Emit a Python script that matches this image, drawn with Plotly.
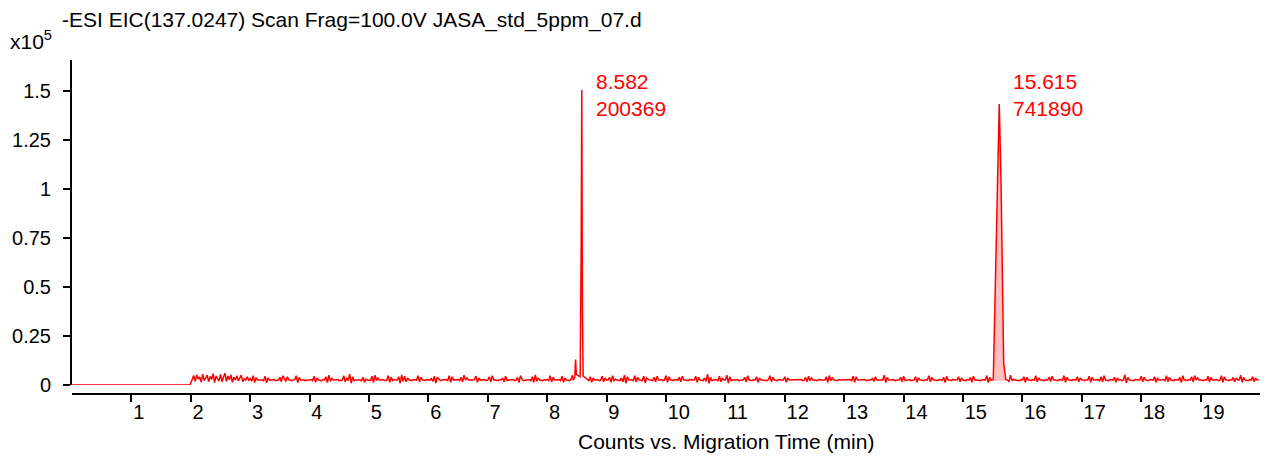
import numpy as np
import plotly.graph_objects as go

# ---------------- data ----------------
TITLE = "-ESI EIC(137.0247) Scan Frag=100.0V JASA_std_5ppm_07.d"
X_LABEL = "Counts vs. Migration Time (min)"
Y_EXP_LABEL = "x10<sup>5</sup>"

# flat region before the detector signal starts
flat_t = [0.0, 1.99]
flat_v = [0, 0]

# baseline noise (counts / 100), one row per minute, sampled every 0.025 min from 2.000 min
noise_start = 2.0
noise_step = 0.025
noise_rows = [
    [10, 35, 48, 18, 52, 30, 41, 15, 55, 22, 38, 50, 16, 44, 28, 58, 12, 46, 33, 20,
     54, 17, 40, 60, 19, 45, 27, 51, 14, 39, 25, 47, 21, 36, 50, 17, 31, 25, 42, 22],  # 2
    [33, 19, 47, 13, 38, 25, 25, 28, 25, 22, 45, 11, 36, 25, 25, 25, 28, 22, 25, 25,
     39, 17, 47, 29, 18, 42, 25, 25, 22, 25, 28, 47, 12, 39, 25, 25, 28, 22, 25, 25],  # 3
    [25, 28, 22, 45, 14, 36, 25, 25, 22, 28, 25, 42, 12, 50, 18, 36, 25, 25, 25, 28,
     22, 25, 25, 47, 16, 36, 22, 55, 9, 42, 22, 25, 25, 28, 25, 22, 39, 14, 30, 25],  # 4
    [25, 22, 45, 12, 50, 22, 36, 25, 25, 28, 25, 22, 25, 48, 14, 39, 22, 28, 25, 25,
     42, 9, 52, 18, 45, 16, 36, 25, 25, 22, 28, 25, 25, 47, 16, 39, 25, 25, 22, 28],  # 5
    [25, 25, 33, 18, 45, 10, 39, 28, 22, 25, 25, 25, 28, 22, 47, 14, 42, 25, 25, 25,
     28, 22, 39, 16, 50, 25, 36, 25, 25, 22, 25, 28, 45, 14, 36, 25, 25, 25, 28, 22],  # 6
    [25, 42, 16, 47, 25, 25, 25, 22, 28, 25, 36, 16, 45, 22, 25, 25, 25, 28, 22, 25,
     39, 12, 48, 30, 22, 25, 25, 25, 28, 22, 42, 14, 52, 18, 36, 25, 25, 22, 28, 25],  # 7
    [28, 22, 47, 16, 39, 25, 25, 25, 28, 22, 45, 14, 36, 25, 25, 22, 28, 50, 16, 42,
     25, 36, 18, 45, 22, 25, 25, 28, 22, 42, 14, 36, 25, 25, 28, 22, 25, 45, 16, 36],  # 8
    [25, 25, 39, 14, 47, 22, 30, 25, 25, 22, 36, 16, 50, 9, 42, 25, 25, 28, 22, 47,
     16, 39, 25, 25, 22, 45, 11, 36, 30, 25, 25, 22, 39, 16, 45, 25, 25, 28, 22, 25],  # 9
    [48, 13, 42, 25, 25, 22, 28, 25, 25, 39, 16, 45, 25, 25, 25, 22, 28, 25, 25, 25,
     45, 14, 39, 25, 25, 22, 36, 18, 55, 8, 39, 22, 25, 25, 28, 22, 45, 16, 36, 25],  # 10
    [25, 50, 10, 42, 22, 25, 25, 25, 28, 22, 25, 25, 25, 39, 16, 47, 25, 25, 22, 28,
     25, 42, 14, 36, 25, 25, 25, 25, 22, 28, 47, 16, 39, 25, 25, 22, 28, 25, 25, 25],  # 11
    [42, 14, 36, 25, 25, 25, 25, 25, 25, 25, 25, 28, 22, 25, 39, 16, 45, 22, 36, 25,
     25, 25, 22, 28, 25, 25, 25, 25, 42, 14, 48, 22, 36, 25, 25, 22, 25, 28, 25, 25],  # 12
    [25, 25, 25, 25, 28, 22, 45, 14, 42, 25, 25, 25, 25, 25, 28, 22, 25, 25, 25, 33,
     18, 42, 25, 25, 22, 25, 25, 50, 12, 39, 25, 25, 25, 28, 22, 25, 25, 25, 39, 16],  # 13
    [45, 22, 25, 25, 28, 22, 25, 25, 42, 14, 36, 25, 25, 25, 22, 28, 25, 47, 16, 39,
     25, 25, 25, 22, 28, 25, 25, 39, 12, 45, 25, 25, 22, 28, 25, 25, 25, 42, 16, 36],  # 14
    [25, 25, 22, 28, 25, 39, 14, 45, 25, 25, 25, 25, 22, 28, 25, 25, 48, 12, 39, 22,
     25, 25, 25, 25, 25, 25, 25, 25, 25, 25, 36, 16, 50, 22, 30, 25, 25, 25, 22, 28],  # 15
    [25, 42, 14, 39, 25, 25, 22, 28, 25, 47, 16, 36, 25, 25, 25, 22, 28, 25, 39, 18,
     45, 25, 25, 25, 22, 28, 25, 25, 48, 14, 39, 25, 25, 22, 28, 25, 25, 42, 16, 36],  # 16
    [25, 25, 22, 28, 25, 45, 14, 39, 25, 25, 25, 28, 22, 42, 16, 47, 25, 25, 22, 28,
     25, 25, 39, 14, 36, 25, 28, 22, 25, 52, 11, 39, 25, 25, 25, 22, 28, 25, 25, 25],  # 17
    [45, 16, 39, 25, 25, 22, 28, 25, 25, 42, 14, 36, 25, 25, 25, 28, 22, 47, 16, 39,
     25, 25, 22, 28, 25, 25, 39, 12, 47, 25, 25, 22, 28, 25, 42, 16, 48, 25, 36, 25],  # 18
    [25, 25, 22, 28, 25, 45, 16, 39, 25, 25, 25, 28, 22, 25, 47, 14, 42, 25, 25, 22,
     28, 25, 39, 16, 36, 25, 25, 50, 14, 39, 25, 25, 22, 28, 25, 42, 16, 36, 25, 25],  # 19
]

# peak 1 (8.582 min) profile
peak1_t = [8.44, 8.465, 8.478, 8.49, 8.52, 8.555, 8.572, 8.582, 8.593, 8.605, 8.64, 8.68]
peak1_v = [2500, 4000, 13000, 5500, 4800, 4200, 70000, 150500, 40000, 4500, 3800, 3000]

# peak 2 (15.615 min) profile
peak2_t = [15.48, 15.51, 15.545, 15.575, 15.61, 15.64, 15.66, 15.685, 15.72, 15.75]
peak2_v = [2500, 2700, 53000, 100000, 143400, 104000, 53000, 11000, 2800, 2500]
peak2_base = 2200

# peak annotations
peak_rt = [8.582, 15.615]
peak_apex_t = [8.582, 15.61]
peak_area = [200369, 741890]

x_ticks = list(range(1, 20))
y_tickvals = [0, 25000, 50000, 75000, 100000, 125000, 150000]
y_ticktext = ["0", "0.25", "0.5", "0.75", "1", "1.25", "1.5"]

# ---------------- assemble trace ----------------
noise_v = [v * 100 for row in noise_rows for v in row]
noise_t = [noise_start + i * noise_step for i in range(len(noise_v))]

windows = [(min(peak1_t), max(peak1_t)), (min(peak2_t), max(peak2_t))]
keep_t, keep_v = [], []
for t, v in zip(noise_t, noise_v):
    if any(a <= t <= b for a, b in windows):
        continue
    keep_t.append(t)
    keep_v.append(v)

all_t = np.array(flat_t + keep_t + peak1_t + peak2_t)
all_v = np.array(flat_v + keep_v + peak1_v + peak2_v)
order = np.argsort(all_t)
all_t, all_v = all_t[order], all_v[order]

RED = "#ff0000"
FONT = "Liberation Sans, Arial, sans-serif"

fig = go.Figure()

# integrated area of peak 2
fig.add_trace(go.Scatter(
    x=peak2_t + peak2_t[::-1],
    y=peak2_v + [peak2_base] * len(peak2_t),
    fill="toself", fillcolor="rgba(255,0,0,0.25)",
    line=dict(width=0), mode="lines", hoverinfo="skip", showlegend=False,
))

fig.add_trace(go.Scatter(
    x=all_t, y=all_v, mode="lines",
    line=dict(color=RED, width=1.5), showlegend=False,
))

L, R, T, B = 72, 12, 60, 63
W, H = 1272, 457
plot_h = H - T - B

fig.update_layout(
    width=W, height=H,
    margin=dict(l=L, r=R, t=T, b=B, autoexpand=False),
    paper_bgcolor="white", plot_bgcolor="white",
    font=dict(family=FONT, size=20, color="black"),
    xaxis=dict(
        range=[0, 20], anchor="free", position=0, automargin=False,
        tickvals=x_ticks, ticktext=[str(v) for v in x_ticks],
        ticks="outside", ticklen=7, tickwidth=1.5, tickcolor="black",
        ticklabelposition="outside right",
        showline=True, linecolor="black", linewidth=2,
        showgrid=False, zeroline=False,
        tickfont=dict(size=20),
    ),
    yaxis=dict(
        range=[0, 165800], domain=[0.027, 1], automargin=False,
        tickvals=y_tickvals, ticktext=y_ticktext,
        ticks="outside", ticklen=7, tickwidth=1.5, tickcolor="black",
        ticklabelstandoff=8,
        showline=True, linecolor="black", linewidth=2,
        showgrid=False, zeroline=False,
        tickfont=dict(size=20),
    ),
)

def py(pix):
    return (H - B - pix) / plot_h

def px(pix):
    return (pix - L) / (W - L - R)

fig.add_annotation(text=TITLE, xref="paper", yref="paper", x=px(60), y=py(20),
                   xanchor="left", yanchor="middle", showarrow=False,
                   font=dict(size=21, color="black"))
fig.add_annotation(text=Y_EXP_LABEL, xref="paper", yref="paper", x=px(8), y=py(40),
                   xanchor="left", yanchor="middle", showarrow=False,
                   font=dict(size=21, color="black"))
fig.add_annotation(text=X_LABEL, xref="paper", yref="paper", x=px(726), y=py(441),
                   xanchor="center", yanchor="middle", showarrow=False,
                   font=dict(size=21, color="black"))

for t_apex, rt, area in zip(peak_apex_t, peak_rt, peak_area):
    fig.add_annotation(text=f"{rt:.3f}<br>{area}", xref="x", yref="paper",
                       x=t_apex, y=py(68), xshift=12,
                       xanchor="left", yanchor="top", align="left", showarrow=False,
                       font=dict(size=21, color=RED))

fig.write_html("out.html",
               config={"displayModeBar": False},
               post_script="document.body.style.margin='0';document.body.style.overflow='hidden';")
